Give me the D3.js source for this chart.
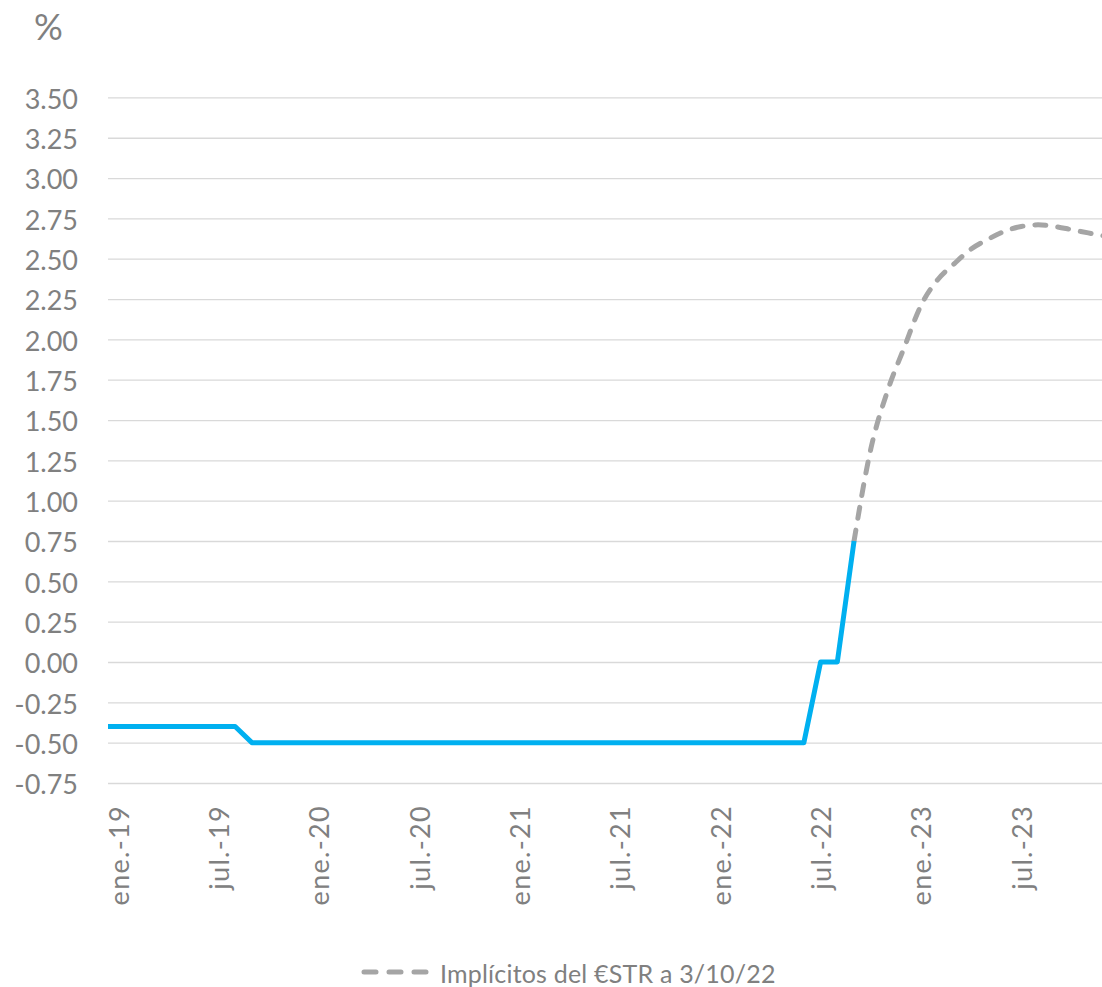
<!DOCTYPE html>
<html>
<head>
<meta charset="utf-8">
<script src="https://cdn.jsdelivr.net/npm/d3@7"></script>
<style>
  html, body { margin: 0; padding: 0; background: #ffffff; }
  svg { display: block; }
  text { font-family: Lato, "Open Sans", sans-serif; }
</style>
</head>
<body>
<svg id="chart" width="1102" height="987"></svg>
<script>
// Month index 0 = enero 2019; negative values are earlier months.
// ECB deposit facility rate, monthly, from dic.-18 (index -1) to sep.-22 (index 44)
const depoStart = -1;
const depoRate = [
  -0.40, -0.40, -0.40, -0.40, -0.40, -0.40, -0.40, -0.40, -0.40,
  -0.50, -0.50, -0.50, -0.50,
  -0.50, -0.50, -0.50, -0.50, -0.50, -0.50, -0.50, -0.50, -0.50, -0.50, -0.50, -0.50,
  -0.50, -0.50, -0.50, -0.50, -0.50, -0.50, -0.50, -0.50, -0.50, -0.50, -0.50, -0.50,
  -0.50, -0.50, -0.50, -0.50, -0.50, -0.50,
  0.00, 0.00, 0.75
];

// €STR implied forwards as of 3/10/22, monthly from sep.-22 (index 44) to dic.-23 (index 59)
const estrStart = 44;
const estrImplied = [
  0.75, 1.32, 1.68, 1.95, 2.21, 2.37, 2.47, 2.56,
  2.62, 2.67, 2.70, 2.71, 2.70, 2.68, 2.66, 2.64
];

// Category labels on the time axis
const xTickIndex = [0, 6, 12, 18, 24, 30, 36, 42, 48, 54];
const xTickLabels = ["ene.-19", "jul.-19", "ene.-20", "jul.-20", "ene.-21",
                     "jul.-21", "ene.-22", "jul.-22", "ene.-23", "jul.-23"];

// Value axis ticks
const yTicks = [-0.75, -0.50, -0.25, 0.00, 0.25, 0.50, 0.75, 1.00, 1.25,
                1.50, 1.75, 2.00, 2.25, 2.50, 2.75, 3.00, 3.25, 3.50];

const legendLabel = "Implícitos del €STR a 3/10/22";

const W = 1102, H = 987;
const plotLeft = 108, plotRight = 1115, plotTop = 97.4, plotBottom = 783;

const svg = d3.select("#chart");
svg.append("rect").attr("width", W).attr("height", H).attr("fill", "#ffffff");

const x = d3.scaleLinear().domain([-0.6, 59.6]).range([plotLeft, plotRight]);
const y = d3.scaleLinear().domain([-0.75, 3.5]).range([plotBottom, plotTop]);

const textColor = "#808080";

// Gridlines + value labels
const yAxis = svg.append("g")
  .attr("transform", `translate(${plotLeft},0)`)
  .call(d3.axisLeft(y)
    .tickValues(yTicks)
    .tickSize(-(W - plotLeft))
    .tickPadding(30)
    .tickFormat(d => d.toFixed(2)));
yAxis.select(".domain").remove();
yAxis.selectAll(".tick line").attr("stroke", "#d9d9d9").attr("stroke-width", 1.3);
yAxis.selectAll(".tick text")
  .attr("fill", textColor)
  .attr("font-size", 27)
  .attr("dy", "0.4em");

// Category axis with rotated labels
const labelOf = new Map(xTickIndex.map((d, i) => [d, xTickLabels[i]]));
const xAxis = svg.append("g")
  .attr("transform", `translate(0,${y(-0.75)})`)
  .call(d3.axisBottom(x)
    .tickValues(xTickIndex)
    .tickSize(0)
    .tickFormat(d => labelOf.get(d)));
xAxis.select(".domain").remove();
xAxis.selectAll(".tick text")
  .attr("fill", textColor)
  .attr("font-size", 27)
  .attr("letter-spacing", 1.3)
  .attr("text-anchor", "end")
  .attr("transform", "rotate(-90)")
  .attr("x", -22)
  .attr("y", 10)
  .attr("dy", 0);

// Clip series to the plot area
svg.append("clipPath").attr("id", "plotClip")
  .append("rect")
  .attr("x", plotLeft).attr("y", 0)
  .attr("width", W - plotLeft).attr("height", H);

const depoPts = depoRate.map((v, i) => ({ i: depoStart + i, v }));
const estrPts = estrImplied.map((v, i) => ({ i: estrStart + i, v }));

const lineStraight = d3.line().x(d => x(d.i)).y(d => y(d.v));
const lineSmooth = d3.line().x(d => x(d.i)).y(d => y(d.v)).curve(d3.curveMonotoneX);

const series = svg.append("g").attr("clip-path", "url(#plotClip)");

series.append("path")
  .datum(estrPts)
  .attr("d", lineSmooth)
  .attr("fill", "none")
  .attr("stroke", "#a5a5a5")
  .attr("stroke-width", 5)
  .attr("stroke-linecap", "round")
  .attr("stroke-linejoin", "round")
  .attr("stroke-dasharray", "11 12");

series.append("path")
  .datum(depoPts)
  .attr("d", lineStraight)
  .attr("fill", "none")
  .attr("stroke", "#00b0f0")
  .attr("stroke-width", 5)
  .attr("stroke-linejoin", "round");

// Unit label
svg.append("text")
  .attr("x", 34).attr("y", 40)
  .attr("fill", textColor)
  .attr("font-size", 36)
  .text("%");

// Legend
const legend = svg.append("g");
legend.append("line")
  .attr("x1", 364).attr("x2", 426)
  .attr("y1", 972).attr("y2", 972)
  .attr("stroke", "#a5a5a5")
  .attr("stroke-width", 5)
  .attr("stroke-linecap", "round")
  .attr("stroke-dasharray", "12 13");
legend.append("text")
  .attr("x", 440).attr("y", 983)
  .attr("fill", textColor)
  .attr("font-size", 25)
  .attr("letter-spacing", 0.2)
  .text(legendLabel);
</script>
</body>
</html>
